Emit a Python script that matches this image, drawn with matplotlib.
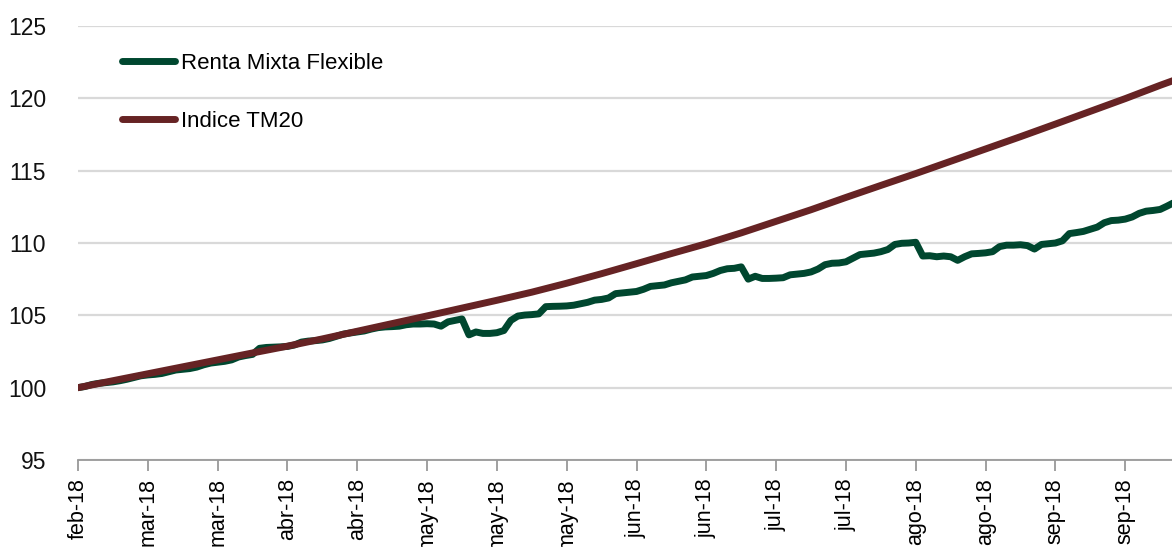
import matplotlib
matplotlib.use("Agg")
import matplotlib.pyplot as plt
from matplotlib import font_manager

names = {f.name for f in font_manager.fontManager.ttflist}
fam = ["Liberation Sans Narrow", "Liberation Sans", "DejaVu Sans"]
fam = [f for f in fam if f in names] + ["DejaVu Sans"]
plt.rcParams['font.family'] = fam

tick_labels = ["feb-18", "mar-18", "mar-18", "abr-18", "abr-18", "may-18", "may-18",
               "may-18", "jun-18", "jun-18", "jul-18", "jul-18", "ago-18", "ago-18",
               "sep-18", "sep-18"]

renta_mixta = [
    100.00, 100.08, 100.22, 100.30, 100.35, 100.40, 100.48, 100.58, 100.70, 100.82,
    100.88, 100.92, 100.98, 101.10, 101.22, 101.27, 101.32, 101.42, 101.58, 101.70,
    101.76, 101.82, 101.92, 102.12, 102.22, 102.30, 102.72, 102.78, 102.80, 102.82,
    102.85, 102.95, 103.15, 103.22, 103.25, 103.30, 103.40, 103.55, 103.70, 103.78,
    103.85, 103.92, 104.05, 104.15, 104.20, 104.22, 104.25, 104.35, 104.40, 104.40,
    104.42, 104.40, 104.25, 104.55, 104.65, 104.75, 103.65, 103.85, 103.75, 103.75,
    103.80, 103.95, 104.65, 104.95, 105.02, 105.05, 105.10, 105.60, 105.62, 105.63,
    105.65, 105.70, 105.80, 105.90, 106.05, 106.10, 106.20, 106.50, 106.55, 106.60,
    106.65, 106.80, 107.00, 107.05, 107.10, 107.25, 107.35, 107.45, 107.65, 107.70,
    107.75, 107.90, 108.10, 108.22, 108.25, 108.35, 107.50, 107.70, 107.55, 107.55,
    107.57, 107.60, 107.80, 107.85, 107.90, 108.00, 108.20, 108.50, 108.60, 108.62,
    108.70, 108.95, 109.20, 109.25, 109.30, 109.40, 109.55, 109.90, 109.98, 110.00,
    110.05, 109.10, 109.12, 109.05, 109.10, 109.05, 108.80, 109.05, 109.25, 109.28,
    109.32, 109.40, 109.75, 109.85, 109.85, 109.88, 109.82, 109.58, 109.90, 109.95,
    110.00, 110.15, 110.65, 110.72, 110.80, 110.95, 111.10, 111.40, 111.55, 111.58,
    111.65, 111.80, 112.05, 112.20, 112.25, 112.32, 112.55, 112.80,
]

tm20_idx = [0, 5, 10, 15, 20, 25, 30, 35, 40, 45, 50, 55, 60, 65, 70, 75, 80, 85, 90,
            95, 100, 105, 110, 115, 120, 125, 130, 135, 140, 145, 150, 155, 157]
indice_tm20 = [100.00, 100.48, 100.96, 101.44, 101.92, 102.40, 102.87, 103.37, 103.90,
               104.43, 104.96, 105.50, 106.04, 106.60, 107.22, 107.88, 108.57, 109.27,
               109.95, 110.70, 111.50, 112.30, 113.15, 113.98, 114.80, 115.65, 116.50,
               117.35, 118.22, 119.10, 119.98, 120.90, 121.25]

green = "#00472F"
brown = "#662324"

fig = plt.figure(figsize=(11.72, 5.47), dpi=100)
ax = fig.add_axes([78 / 1172, 87 / 547, 1094 / 1172, 434 / 547])

ax.plot(range(len(renta_mixta)), renta_mixta, color=green, lw=5,
        solid_capstyle='round', solid_joinstyle='round', label="Renta Mixta Flexible")
ax.plot(tm20_idx, indice_tm20, color=brown, lw=5,
        solid_capstyle='round', solid_joinstyle='round', label="Indice TM20")

ax.set_ylim(95, 125)
ax.set_xlim(0, 156.7)
ax.set_yticks([95, 100, 105, 110, 115, 120, 125])
ax.set_xticks([10 * k for k in range(len(tick_labels))])
ax.set_xticklabels(tick_labels, rotation=90, fontsize=15.5)
ax.tick_params(axis='y', length=0, pad=23, labelsize=16.5)
ax.tick_params(axis='x', length=8, width=1.3, color="#999999", pad=5)
for lab in ax.get_yticklabels():
    lab.set_color("#111111")

for s in ["top", "right", "left"]:
    ax.spines[s].set_visible(False)
ax.spines["bottom"].set_color("#999999")
ax.spines["bottom"].set_linewidth(1.3)
ax.yaxis.grid(True, color="#d9d9d9", lw=1.6)
ax.set_axisbelow(True)

leg = ax.legend(loc="upper left", bbox_to_anchor=(0.040, 0.938), frameon=False,
                fontsize=16, handlelength=2.4, handletextpad=0.27, labelspacing=1.65,
                borderpad=0, borderaxespad=0)

fig.savefig("out.png", dpi=100)
